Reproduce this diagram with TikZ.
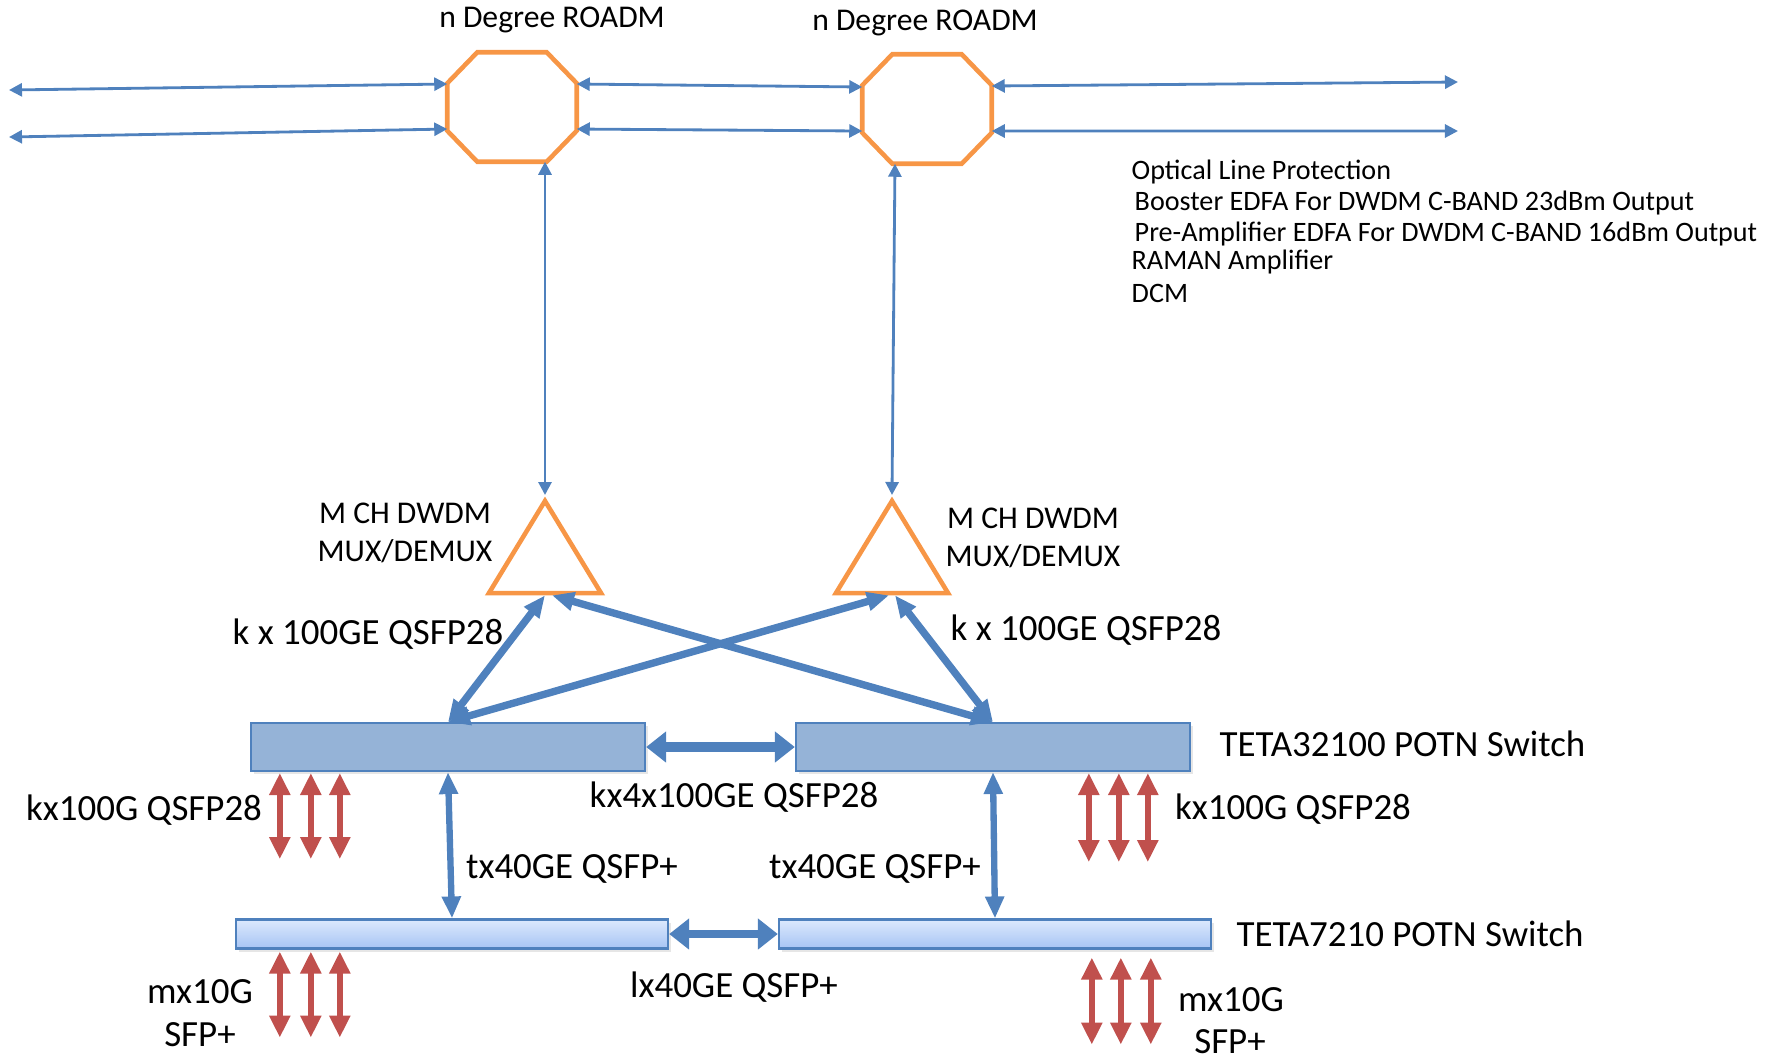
\documentclass[tikz,border=0pt]{standalone}
\usepackage{fontspec}
\setmainfont{Carlito}
\usetikzlibrary{arrows.meta,shapes.geometric,shadows,calc}

\definecolor{lineblue}{HTML}{4F81BD}
\definecolor{roadmorange}{HTML}{F79646}
\definecolor{portred}{HTML}{C0504D}
\definecolor{boxfill}{HTML}{95B3D7}
\definecolor{lotop}{HTML}{DDE9FD}
\definecolor{lobottom}{HTML}{A6C4F4}

\tikzset{
  roadm/.style={rectangle, inner sep=0pt, minimum width=1.28cm, minimum height=1.08cm},
  roadmline/.style={draw=roadmorange, line width=1.3pt, line join=miter},
  muxtri/.style={isosceles triangle, isosceles triangle stretches, shape border rotate=90,
    draw=roadmorange, line width=1.3pt, inner sep=0pt, minimum width=1.12cm, minimum height=0.92cm},
  potn/.style={rectangle, draw=lineblue, line width=0.6pt, fill=boxfill, inner sep=0pt,
    minimum width=3.94cm, minimum height=0.48cm,
    drop shadow={opacity=0.2, shadow xshift=0.03cm, shadow yshift=-0.03cm}},
  potnlo/.style={rectangle, draw=lineblue, line width=0.6pt, top color=lotop, bottom color=lobottom,
    inner sep=0pt, minimum width=4.32cm, minimum height=0.29cm,
    drop shadow={opacity=0.2, shadow xshift=0.03cm, shadow yshift=-0.03cm}},
  fibre/.style={draw=lineblue, line width=0.8pt, {Triangle[length=0.13cm,width=0.13cm]}-{Triangle[length=0.13cm,width=0.13cm]}},
  trunk/.style={draw=lineblue, line width=2.1pt, {Triangle[length=0.22cm,width=0.18cm]}-{Triangle[length=0.22cm,width=0.18cm]}},
  uplink/.style={draw=lineblue, line width=1.8pt, {Triangle[length=0.22cm,width=0.18cm]}-{Triangle[length=0.22cm,width=0.18cm]}},
  stack/.style={draw=lineblue, line width=2.6pt, {Triangle[length=0.2cm,width=0.3cm]}-{Triangle[length=0.2cm,width=0.3cm]}},
  port/.style={draw=portred, line width=1.7pt, {Triangle[length=0.22cm,width=0.2cm]}-{Triangle[length=0.22cm,width=0.2cm]}},
  biglbl/.style={font=\fontsize{10.5}{13}\selectfont, inner sep=0pt},
  midlbl/.style={font=\fontsize{9}{11}\selectfont, inner sep=0pt},
  smalllbl/.style={font=\fontsize{8}{10}\selectfont, inner sep=0pt, anchor=west}
}

\begin{document}
\begin{tikzpicture}[x=0.01cm, y=-0.01cm]
  \useasboundingbox (0,0) rectangle (1765,1059);

  % ROADMs
  \node[roadm] (r1) at (512,107) {};
  \node[roadm] (r2) at (927,109) {};
  \foreach \r in {r1,r2}
    \draw[roadmline] ([xshift=0.3cm]\r.north west) -- ([xshift=-0.3cm]\r.north east)
      -- ([yshift=-0.31cm]\r.north east) -- ([yshift=0.31cm]\r.south east)
      -- ([xshift=-0.3cm]\r.south east) -- ([xshift=0.3cm]\r.south west)
      -- ([yshift=0.31cm]\r.south west) -- ([yshift=-0.31cm]\r.north west) -- cycle;
  \node[midlbl] (r1lbl) at (552,20) {n Degree ROADM};
  \node[midlbl] (r2lbl) at (925,23) {n Degree ROADM};

  % line side
  \coordinate (w1) at (9,90);
  \coordinate (w2) at (9,137);
  \coordinate (e1) at (1458,82);
  \coordinate (e2) at (1458,131);
  \draw[fibre] (w1) -- ([yshift=0.23cm]r1.west);
  \draw[fibre] (w2) -- ([yshift=-0.22cm]r1.west);
  \draw[fibre] ([yshift=0.23cm]r1.east) -- ([yshift=0.22cm]r2.west);
  \draw[fibre] ([yshift=-0.22cm]r1.east) -- ([yshift=-0.22cm]r2.west);
  \draw[fibre] ([yshift=0.23cm]r2.east) -- (e1);
  \draw[fibre] ([yshift=-0.22cm]r2.east) -- (e2);

  % amplifier list
  \foreach \y/\x/\t [count=\i] in {172/1131/Optical Line Protection,
      203/1134/Booster EDFA For DWDM C-BAND 23dBm Output,
      234/1134/Pre-Amplifier EDFA For DWDM C-BAND 16dBm Output,
      262/1131/RAMAN Amplifier,
      293/1131/DCM} {
    \node[smalllbl] (opt\i) at (\x,\y) {\t};
  }

  % MUX/DEMUX
  \node[muxtri, anchor=apex] (m1) at (545,495) {};
  \node[muxtri, anchor=apex] (m2) at (892,495) {};
  \node[midlbl, align=center] (m1lbl) at (405,533) {M CH DWDM\\MUX/DEMUX};
  \node[midlbl, align=center] (m2lbl) at (1033,538) {M CH DWDM\\MUX/DEMUX};
  \draw[fibre] (m1.apex) -- (m1.apex |- r1.south);
  \draw[fibre] (m2.apex) -- ([xshift=-0.32cm]r2.south);

  % POTN switches
  \node[potn] (sw1) at (448,747) {};
  \node[potn] (sw2) at (993,747) {};
  \node[potnlo] (lo1) at (452,934) {};
  \node[potnlo] (lo2) at (995,934) {};
  \node[biglbl, anchor=west] (swlbl) at (1219,744) {TETA32100 POTN Switch};
  \node[biglbl, anchor=west] (lolbl) at (1236,934) {TETA7210 POTN Switch};

  % 100GE uplinks
  \draw[trunk] (sw1.north) -- (m1.south);
  \draw[trunk] (sw1.north) -- ([xshift=-0.03cm]m2.south);
  \draw[trunk] (sw2.north) -- ([xshift=0.03cm]m2.south);
  \draw[trunk] (sw2.north) -- ([xshift=0.07cm]m1.south);
  \node[biglbl] (k1lbl) at (368,634) {k x 100GE QSFP28};
  \node[biglbl] (k2lbl) at (1086,630) {k x 100GE QSFP28};

  % interconnects
  \draw[stack] (sw1.east) -- (sw2.west);
  \draw[stack, line width=2.2pt] (lo1.east) -- (lo2.west);
  \draw[uplink] (sw1.south) -- (lo1.north);
  \draw[uplink] (sw2.south) -- (lo2.north);
  \node[biglbl] (kx4lbl) at (734,797) {kx4x100GE QSFP28};
  \node[biglbl] (t1lbl) at (572,869) {tx40GE QSFP+};
  \node[biglbl] (t2lbl) at (875,869) {tx40GE QSFP+};
  \node[biglbl] (l1lbl) at (734,987) {lx40GE QSFP+};

  % client ports
  \foreach \dx in {30,61,90}
    \draw[port] ($(sw1.south west)+(\dx,1)$) -- ++(0,86);
  \foreach \dx in {294,324,353}
    \draw[port] ($(sw2.south west)+(\dx,1)$) -- ++(0,89);
  \foreach \dx in {45,76,105}
    \draw[port] ($(lo1.south west)+(\dx,2)$) -- ++(0,86);
  \foreach \dx in {314,343,373}
    \draw[port] ($(lo2.south west)+(\dx,8)$) -- ++(0,87);
  \node[biglbl] (p1lbl) at (144,810) {kx100G QSFP28};
  \node[biglbl] (p2lbl) at (1293,809) {kx100G QSFP28};
  \node[biglbl] (p3lbl) at (200,992) {mx10G};
  \node[biglbl] (p3slbl) at (200,1035) {SFP+};
  \node[biglbl] (p4lbl) at (1231,1000) {mx10G};
  \node[biglbl] (p4slbl) at (1230,1042) {SFP+};
\end{tikzpicture}
\end{document}
